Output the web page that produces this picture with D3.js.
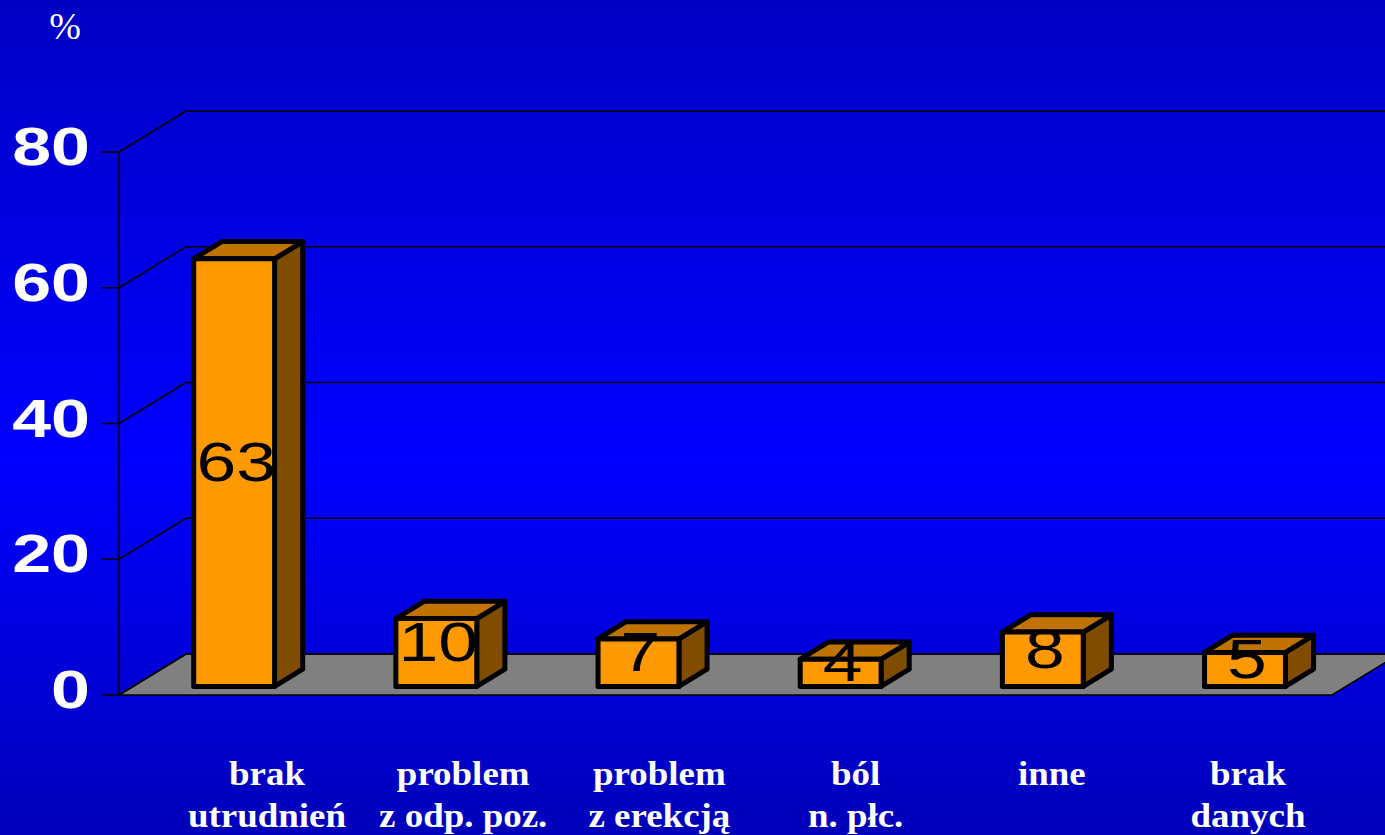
<!DOCTYPE html>
<html>
<head>
<meta charset="utf-8">
<script src="https://cdnjs.cloudflare.com/ajax/libs/d3/7.8.5/d3.min.js"></script>
<style>
    html, body { margin: 0; padding: 0; background: #0000c8; overflow: hidden; }
    svg { display: block; }
</style>
</head>
<body>
<div class="graphContainer"></div>
<script>
// Chart data
var categories = [
    ["brak", "utrudnień"],
    ["problem", "z odp. poz."],
    ["problem", "z erekcją"],
    ["ból", "n. płc."],
    ["inne"],
    ["brak", "danych"]
];
var values = [63, 10, 7, 4, 8, 5];
var yTicks = [0, 20, 40, 60, 80];
var unitLabel = "%";

(function(){

    // Set the dimensions of the canvas / graph
    var width = 1385,
        height = 835;

    // 3D depth of the plot box (front plane -> back wall)
    var DX = 67, DY = 41;
    // bar depth as fraction of the box depth
    var z0 = 0.21, z1 = 0.63;

    // Set the ranges
    var x = d3.scaleBand()
        .domain(d3.range(values.length))
        .range([119, 1332])
        .paddingInner(0.6)
        .paddingOuter(0.3);
    var y = d3.scaleLinear().domain([0, 80]).range([695, 152]);

    // labels sit a bit off the band centres
    var xLabel = d3.scalePoint()
        .domain(d3.range(values.length))
        .range([267, 1248]);

    // project a point of the front plane back by depth z
    function P(xf, yf, z) { return [xf + z * DX, yf - z * DY]; }
    function poly(pts) { return "M" + pts.map(function(p) { return p.join(","); }).join("L") + "Z"; }

    var svg = d3.select(".graphContainer")
        .append("svg")
            .attr("width", width)
            .attr("height", height);

    // Background gradient
    var grad = svg.append("defs").append("linearGradient")
        .attr("id", "bg")
        .attr("x1", 0).attr("y1", 0).attr("x2", 0).attr("y2", 1);
    grad.append("stop").attr("offset", "0%").attr("stop-color", "#0000c4");
    grad.append("stop").attr("offset", "55%").attr("stop-color", "#0000ff");
    grad.append("stop").attr("offset", "100%").attr("stop-color", "#0000ba");

    svg.append("rect")
        .attr("width", width)
        .attr("height", height)
        .attr("fill", "url(#bg)");

    var x0 = x.range()[0], x1 = x.range()[1];

    // Floor
    svg.append("path")
        .attr("d", poly([[x0, y(0)], [x1, y(0)], P(x1, y(0), 1), P(x0, y(0), 1)]))
        .attr("fill", "#808080")
        .attr("stroke", "#000")
        .attr("stroke-width", 1.5)
        .attr("stroke-linejoin", "round");

    // Grid lines: side wall diagonals + back wall horizontals
    var grid = svg.append("g")
        .attr("stroke", "#000")
        .attr("stroke-width", 1.5)
        .attr("fill", "none");
    yTicks.forEach(function(t) {
        var a = P(x0, y(t), 1), b = P(x1, y(t), 1);
        grid.append("path").attr("d", "M" + x0 + "," + y(t) + "L" + a.join(",") + "L" + b.join(","));
        // tick mark
        grid.append("line")
            .attr("x1", x0 - 17).attr("x2", x0)
            .attr("y1", y(t)).attr("y2", y(t));
    });
    // front value axis line
    grid.append("line")
        .attr("x1", x0).attr("x2", x0)
        .attr("y1", y(0)).attr("y2", y(80));

    // Y tick labels
    svg.append("g").selectAll("text")
        .data(yTicks)
        .enter().append("text")
            .attr("transform", function(d) { return "translate(90," + (y(d) + 13) + ") scale(1.32,1)"; })
            .attr("text-anchor", "end")
            .attr("font-family", "'Liberation Sans', Arial, sans-serif")
            .attr("font-weight", "bold")
            .attr("font-size", 53)
            .attr("fill", "#fff")
            .text(function(d) { return d; });

    // unit label
    svg.append("text")
        .attr("x", 65)
        .attr("y", 39)
        .attr("text-anchor", "middle")
        .attr("font-family", "'Liberation Serif', 'Times New Roman', serif")
        .attr("font-size", 38)
        .attr("fill", "#fff")
        .text(unitLabel);

    // Bars (side, top, front)
    var bw = x.bandwidth();
    var bars = svg.append("g")
        .attr("stroke", "#000")
        .attr("stroke-width", 5)
        .attr("stroke-linejoin", "round")
        .selectAll("g")
        .data(values)
        .enter().append("g");

    bars.each(function(d, i) {
        var g = d3.select(this);
        var l = x(i), r = x(i) + bw;
        var fbl = P(l, y(0), z0), fbr = P(r, y(0), z0),
            ftl = P(l, y(d), z0), ftr = P(r, y(d), z0),
            bbr = P(r, y(0), z1), btl = P(l, y(d), z1), btr = P(r, y(d), z1);

        g.append("path").attr("d", poly([fbr, ftr, btr, bbr])).attr("fill", "#7f4c00");
        g.append("path").attr("d", poly([ftl, ftr, btr, btl])).attr("fill", "#c07300");
        g.append("path").attr("d", poly([fbl, fbr, ftr, ftl])).attr("fill", "#ff9900");

        // value label, centred in the bar volume
        var cx = (fbl[0] + fbr[0]) / 2,
            cy = (fbl[1] + ftl[1]) / 2 - (z1 - z0) * DY / 2;
        g.append("text")
            .attr("transform", "translate(" + (cx + 2) + "," + (cy + 17) + ") scale(1.3,1)")
            .attr("text-anchor", "middle")
            .attr("stroke", "none")
            .attr("fill", "#000")
            .attr("font-family", "'Liberation Sans', Arial, sans-serif")
            .attr("font-size", 55)
            .text(d);
    });

    // Category labels
    var cat = svg.append("g").selectAll("text")
        .data(categories)
        .enter().append("text")
            .attr("text-anchor", "middle")
            .attr("font-family", "'Liberation Serif', 'Times New Roman', serif")
            .attr("font-weight", "bold")
            .attr("font-size", 33)
            .attr("fill", "#fff")
            .attr("transform", function(d, i) { return "translate(" + xLabel(i) + ",785) scale(1.12,1)"; });

    cat.selectAll("tspan")
        .data(function(d) { return d; })
        .enter().append("tspan")
            .attr("x", 0)
            .attr("y", function(d, j) { return j * 42; })
            .text(function(d) { return d; });

})();
</script>
</body>
</html>
